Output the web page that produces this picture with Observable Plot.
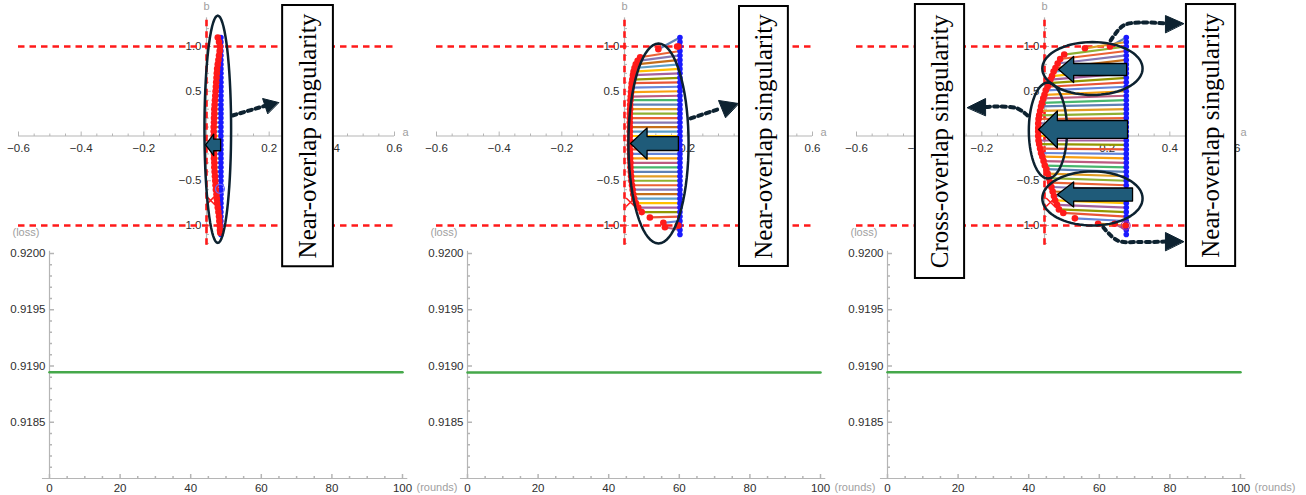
<!DOCTYPE html>
<html><head><meta charset="utf-8">
<script src="https://cdn.jsdelivr.net/npm/d3@7"></script>
<script src="https://cdn.jsdelivr.net/npm/@observablehq/plot@0.6"></script>
<style>
html,body{margin:0;padding:0;background:#fff;}
#wrap{position:relative;width:1306px;height:495px;overflow:hidden;background:#fff;}
#wrap svg{position:absolute;top:0;}
</style></head><body><div id="wrap"></div>
<script>
// ---------- data ----------
const palette = ["#5E81B5","#E19C24","#8FB032","#EB6235","#8778B3","#C56E1A","#5D9EC7","#FFBF00","#A5609D","#929600","#E95536","#6685D9","#F89F13","#BC5B80","#47B66D"];
const bBlue = [1.10,1.05,1.00,0.95,0.90,0.85,0.80,0.75,0.70,0.65,0.60,0.55,0.50,0.45,0.40,0.35,0.30,0.25,0.20,0.15,0.10,0.05,0.00,-0.05,-0.10,-0.15,-0.20,-0.25,-0.30,-0.35,-0.40,-0.45,-0.50,-0.55,-0.60,-0.65,-0.70,-0.75,-0.80,-0.85,-0.90,-0.95,-1.00,-1.05,-1.10];
const blueA = [0.046, 0.177, 0.261];
const redA1 = [0.036,0.040,0.043,0.042,0.040,0.038,0.036,0.034,0.033,0.032,0.031,0.030,0.029,0.028,0.027,0.026,0.025,0.025,0.024,0.024,0.023,0.023,0.023,0.023,0.023,0.023,0.024,0.024,0.025,0.025,0.026,0.027,0.028,0.029,0.030,0.032,0.033,0.034,0.036,0.038,0.040,0.041,0.042,0.043,0.044];
const redB1 = [1.10,1.05,1.00,0.95,0.90,0.85,0.80,0.75,0.70,0.65,0.60,0.55,0.50,0.45,0.40,0.35,0.30,0.25,0.20,0.15,0.10,0.05,0.00,-0.05,-0.10,-0.15,-0.20,-0.25,-0.30,-0.35,-0.40,-0.45,-0.50,-0.55,-0.60,-0.65,-0.70,-0.75,-0.80,-0.85,-0.90,-0.95,-1.00,-1.05,-1.08];
const redA2 = [0.108,0.172,0.168,0.050,0.042,0.036,0.032,0.029,0.027,0.025,0.023,0.022,0.021,0.020,0.019,0.018,0.018,0.017,0.017,0.017,0.017,0.017,0.017,0.017,0.017,0.017,0.018,0.018,0.019,0.019,0.020,0.021,0.022,0.024,0.026,0.028,0.031,0.036,0.044,0.055,0.081,0.124,0.172,0.129,0.170];
const redB2 = [0.97,1.00,1.00,0.88,0.84,0.80,0.76,0.72,0.68,0.63,0.59,0.54,0.49,0.44,0.40,0.35,0.30,0.25,0.20,0.15,0.10,0.05,0.00,-0.05,-0.10,-0.15,-0.20,-0.25,-0.30,-0.35,-0.40,-0.45,-0.50,-0.55,-0.60,-0.65,-0.70,-0.75,-0.80,-0.85,-0.91,-0.97,-1.00,-1.02,-1.00];
const redA3 = [0.209,0.129,0.063,0.050,0.042,0.035,0.029,0.024,0.019,0.014,0.010,0.004,0.000,-0.004,-0.008,-0.011,-0.014,-0.017,-0.019,-0.020,-0.020,-0.020,-0.020,-0.019,-0.017,-0.014,-0.011,-0.007,-0.003,0.001,0.006,0.010,0.014,0.018,0.022,0.026,0.030,0.034,0.040,0.046,0.060,0.097,0.171,0.224,0.259];
const redB3 = [1.00,0.98,0.91,0.86,0.81,0.76,0.72,0.67,0.63,0.59,0.55,0.51,0.46,0.42,0.37,0.33,0.28,0.23,0.19,0.14,0.09,0.05,0.00,-0.05,-0.09,-0.14,-0.19,-0.23,-0.28,-0.33,-0.37,-0.42,-0.47,-0.52,-0.57,-0.62,-0.67,-0.72,-0.77,-0.82,-0.86,-0.92,-0.98,-0.98,-1.00];
const crossA = [0.013, 0.019, 0.019];
const crossB = [-0.72, -0.74, -0.74];
const ringA = [0.043, null, 0.259];
const ringB = [-0.59, null, -1.00];
const ringColor = ["#6a6aff", null, "#b0309a"];

const rounds = [0, 100];
const loss1 = [0.918944, 0.918944];
const loss2 = [0.918942, 0.918942];
const loss3 = [0.918944, 0.918944];

// axes ticks
const aMajor = [-0.6,-0.4,-0.2,0,0.2,0.4,0.6];
const aMinor = [-0.55,-0.5,-0.45,-0.35,-0.3,-0.25,-0.15,-0.1,-0.05,0.05,0.1,0.15,0.25,0.3,0.35,0.45,0.5,0.55];
const aLabelVals = [-0.6,-0.4,-0.2,0.2,0.4,0.6];
const aLabels = ["\u22120.6","\u22120.4","\u22120.2","0.2","0.4","0.6"];
const bMajor = [1.0,0.5,-0.5,-1.0];
const bLabels = ["1.0","0.5","\u22120.5","\u22121.0"];
const bMinor = [-1.2,-1.1,-0.9,-0.8,-0.7,-0.6,-0.4,-0.3,-0.2,-0.1,0.1,0.2,0.3,0.4,0.6,0.7,0.8,0.9,1.1,1.2];
const bExtent = [-1.22, 1.32];
const bGuides = [1, -1];
const roundMajor = [0,20,40,60,80,100];
const roundMinor = [5,10,15,25,30,35,45,50,55,65,70,75,85,90,95];
const lossMajor = [0.9185,0.9190,0.9195,0.9200];
const lossLabels = ["0.9185","0.9190","0.9195","0.9200"];
const lossMinor = [0.9181,0.9182,0.9183,0.9184,0.9186,0.9187,0.9188,0.9189,0.9191,0.9192,0.9193,0.9194,0.9196,0.9197,0.9198,0.9199];

// annotations (in a,b data units)
const ellipses = [
  [{a:0.036, b:0.075, ra:0.0425, rb:1.27}],
  [{a:0.1085, b:-0.084, ra:0.096, rb:1.117}],
  [{a:0.153, b:0.754, ra:0.160, rb:0.296}, {a:0.011, b:0.061, ra:0.061, rb:0.536}, {a:0.153, b:-0.698, ra:0.160, rb:0.302}]
];
const blockArrows = [
  [{tip:-0.003, base:0.023, tail:0.045, b:-0.10, sh:0.065, hh:0.12}],
  [{tip:0.019, base:0.072, tail:0.172, b:-0.084, sh:0.078, hh:0.175}],
  [{tip:0.045, base:0.093, tail:0.262, b:0.743, sh:0.067, hh:0.145},
   {tip:-0.019, base:0.041, tail:0.265, b:0.073, sh:0.10, hh:0.207},
   {tip:0.041, base:0.093, tail:0.281, b:-0.654, sh:0.073, hh:0.14}]
];
const dottedArrows = [
  [{path:[[0.083,0.229],[0.185,0.335]], head:[[0.230,0.374],[0.179,0.419],[0.195,0.251]]}],
  [{path:[[0.211,0.196],[0.306,0.307]], head:[[0.364,0.363],[0.300,0.397],[0.322,0.207]]}],
  [{path:[[0.211,1.067],[0.252,1.235],[0.306,1.268],[0.386,1.257]], head:[[0.444,1.257],[0.386,1.346],[0.386,1.156]]},
   {path:[[-0.054,0.229],[-0.086,0.307],[-0.150,0.330],[-0.188,0.324]], head:[[-0.246,0.318],[-0.188,0.419],[-0.188,0.229]]},
   {path:[[0.188,-1.022],[0.233,-1.168],[0.300,-1.185],[0.386,-1.179]], head:[[0.444,-1.179],[0.386,-1.078],[0.386,-1.279]]}]
];
const boxes = [
  [{a1:0.243, a2:0.405, b1:-1.461, b2:1.458, label:"Near-overlap singularity"}],
  [{a1:0.367, a2:0.523, b1:-1.458, b2:1.447, label:"Near-overlap singularity"}],
  [{a1:-0.412, a2:-0.255, b1:-1.592, b2:1.469, label:"Cross-overlap singularity"},
   {a1:0.453, a2:0.610, b1:-1.458, b2:1.469, label:"Near-overlap singularity"}]
];

const offsets = [0, 418, 838];
const redAs = [redA1, redA2, redA3], redBs = [redB1, redB2, redB3], losses = [loss1, loss2, loss3];

// ---------- styling ----------
const AX = "#b5b5b5", LAB = "#2e2e2e", FAINT = "#a0a0a0";
const RED = "#ff1a1a", BLUE = "#1a1aff", DARK = "#0d2230", ARROWFILL = "#1f5b79", GREEN = "#45a84a";
const SANS = "Liberation Sans, Arial, sans-serif";
const tickUp = len => ({draw(c){ c.moveTo(0,0); c.lineTo(0,-len); }});
const tickRight = len => ({draw(c){ c.moveTo(0,0); c.lineTo(len,0); }});
const ellipsePts = e => d3.range(73).map(k => { const t = k/72*2*Math.PI; return [e.a + e.ra*Math.cos(t), e.b + e.rb*Math.sin(t)]; });
const blockPts = s => [[s.tip,s.b],[s.base,s.b+s.hh],[s.base,s.b+s.sh],[s.tail,s.b+s.sh],[s.tail,s.b-s.sh],[s.base,s.b-s.sh],[s.base,s.b-s.hh]];

function topPlot(i) {
  const ba = blueA[i];
  const pairs = bBlue.map((bb,k) => ({ra: redAs[i][k], rb: redBs[i][k], ba, bb, c: palette[k % palette.length]}));
  const marks = [
    Plot.ruleY([0], {x1: -0.6, x2: 0.6, stroke: AX, strokeWidth: 1.2}),
    Plot.ruleX([0], {y1: bExtent[0], y2: bExtent[1], stroke: AX, strokeWidth: 1.2}),
    Plot.dot(aMajor, {x: d => d, y: 0, symbol: tickUp(4.5), stroke: AX, fill: "none", strokeWidth: 1}),
    Plot.dot(aMinor, {x: d => d, y: 0, symbol: tickUp(2.5), stroke: AX, fill: "none", strokeWidth: 1}),
    Plot.dot(bMajor, {x: 0, y: d => d, symbol: tickRight(4.5), stroke: AX, fill: "none", strokeWidth: 1}),
    Plot.dot(bMinor, {x: 0, y: d => d, symbol: tickRight(2.5), stroke: AX, fill: "none", strokeWidth: 1}),
    Plot.text(aLabelVals, {x: d => d, y: 0, dy: 12, text: (d,k) => aLabels[k], fill: LAB, fontSize: 11.5, fontFamily: SANS}),
    Plot.text(bMajor, {x: 0, y: d => d, dx: -5, textAnchor: "end", text: (d,k) => bLabels[k], fill: LAB, fontSize: 11.5, fontFamily: SANS}),
    Plot.text(["a"], {x: 0.6, y: 0, dx: 11, dy: -4, fill: FAINT, fontSize: 11, fontFamily: SANS}),
    Plot.text(["b"], {x: 0, y: bExtent[1], dy: -11, fill: FAINT, fontSize: 11, fontFamily: SANS}),
    Plot.ruleY(bGuides, {x1: -0.6, x2: 0.6, stroke: RED, strokeWidth: 2.6, strokeDasharray: "6.5,5"}),
    Plot.ruleX([0], {y1: bExtent[0], y2: bExtent[1], stroke: RED, strokeWidth: 2.6, strokeDasharray: "6.5,5"}),
    Plot.link(pairs, {x1: "ra", y1: "rb", x2: "ba", y2: "bb", stroke: "c", strokeWidth: 2.2}),
    Plot.dot(bBlue, {x: ba, y: d => d, r: 2.8, fill: BLUE, stroke: "none"}),
    Plot.dot(pairs, {x: "ra", y: "rb", r: 3.3, fill: RED, stroke: "none"}),
    Plot.dot([crossA[i]], {x: d => d, y: crossB[i], symbol: "times", r: 4, stroke: RED, strokeWidth: 1.5})
  ];
  if (ringA[i] != null) marks.push(Plot.dot([ringA[i]], {x: d => d, y: ringB[i], r: 4.5, stroke: ringColor[i], fill: "none", strokeWidth: 1.2}));
  for (const e of ellipses[i]) marks.push(Plot.line(ellipsePts(e), {x: d => d[0], y: d => d[1], stroke: DARK, strokeWidth: 2.5, curve: "linear-closed"}));
  for (const s of blockArrows[i]) marks.push(Plot.line(blockPts(s), {x: d => d[0], y: d => d[1], fill: ARROWFILL, stroke: "#000", strokeWidth: 1.3, curve: "linear-closed"}));
  for (const a of dottedArrows[i]) {
    marks.push(Plot.line(a.path, {x: d => d[0], y: d => d[1], stroke: DARK, strokeWidth: 4, strokeDasharray: "4,4", curve: "catmull-rom"}));
    marks.push(Plot.line(a.head, {x: d => d[0], y: d => d[1], fill: DARK, stroke: DARK, strokeWidth: 1, curve: "linear-closed"}));
  }
  marks.push(Plot.rect(boxes[i], {x1: "a1", x2: "a2", y1: "b1", y2: "b2", fill: "white", stroke: "#000", strokeWidth: 2}));
  marks.push(Plot.text(boxes[i], {x: d => (d.a1+d.a2)/2, y: d => (d.b1+d.b2)/2, text: "label", rotate: -90, fontFamily: "Liberation Serif, Times New Roman, serif", fontSize: 25, fill: "#000"}));
  return Plot.plot({
    width: 420, height: 495, margin: 0,
    x: {domain: [-0.6, 0.6], range: [18, 394], axis: null},
    y: {domain: [-1, 1], range: [225, 46], axis: null},
    color: {type: "identity"},
    style: {background: "transparent", overflow: "visible"},
    marks
  });
}

function bottomPlot(i) {
  const pts = rounds.map((r,k) => ({r, l: losses[i][k]}));
  return Plot.plot({
    width: 420, height: 495, margin: 0,
    x: {domain: [0, 100], range: [49, 402], axis: null},
    y: {domain: [0.918, 0.920], range: [478, 253], axis: null},
    style: {background: "transparent", overflow: "visible"},
    marks: [
      Plot.ruleY([0.918], {x1: -2, x2: 101.5, stroke: AX, strokeWidth: 1.2}),
      Plot.ruleX([0], {y1: 0.918, y2: 0.92002, stroke: AX, strokeWidth: 1.2}),
      Plot.dot(roundMajor, {x: d => d, y: 0.918, symbol: tickUp(4.5), stroke: AX, fill: "none"}),
      Plot.dot(roundMinor, {x: d => d, y: 0.918, symbol: tickUp(2.5), stroke: AX, fill: "none"}),
      Plot.dot(lossMajor, {x: 0, y: d => d, symbol: tickRight(4.5), stroke: AX, fill: "none"}),
      Plot.dot(lossMinor, {x: 0, y: d => d, symbol: tickRight(2.5), stroke: AX, fill: "none"}),
      Plot.text(roundMajor, {x: d => d, y: 0.918, dy: 10, text: d => String(d), fill: LAB, fontSize: 11.5, fontFamily: SANS}),
      Plot.text(lossMajor, {x: 0, y: d => d, dx: -4, textAnchor: "end", text: (d,k) => lossLabels[k], fill: LAB, fontSize: 11.5, fontFamily: SANS}),
      Plot.text(["(loss)"], {x: 0, y: 0.92, dx: -37, dy: -21, textAnchor: "start", fill: FAINT, fontSize: 11, fontFamily: SANS}),
      Plot.text(["(rounds)"], {x: 100, y: 0.918, dx: 14, dy: 9, textAnchor: "start", fill: FAINT, fontSize: 11, fontFamily: SANS}),
      Plot.line(pts, {x: "r", y: "l", stroke: GREEN, strokeWidth: 2.5})
    ]
  });
}

const wrap = document.getElementById("wrap");
[0,1,2].forEach(i => { const s = bottomPlot(i); s.style.left = offsets[i] + "px"; wrap.appendChild(s); });
[0,1,2].forEach(i => { const s = topPlot(i); s.style.left = offsets[i] + "px"; wrap.appendChild(s); });
</script>
</body></html>
